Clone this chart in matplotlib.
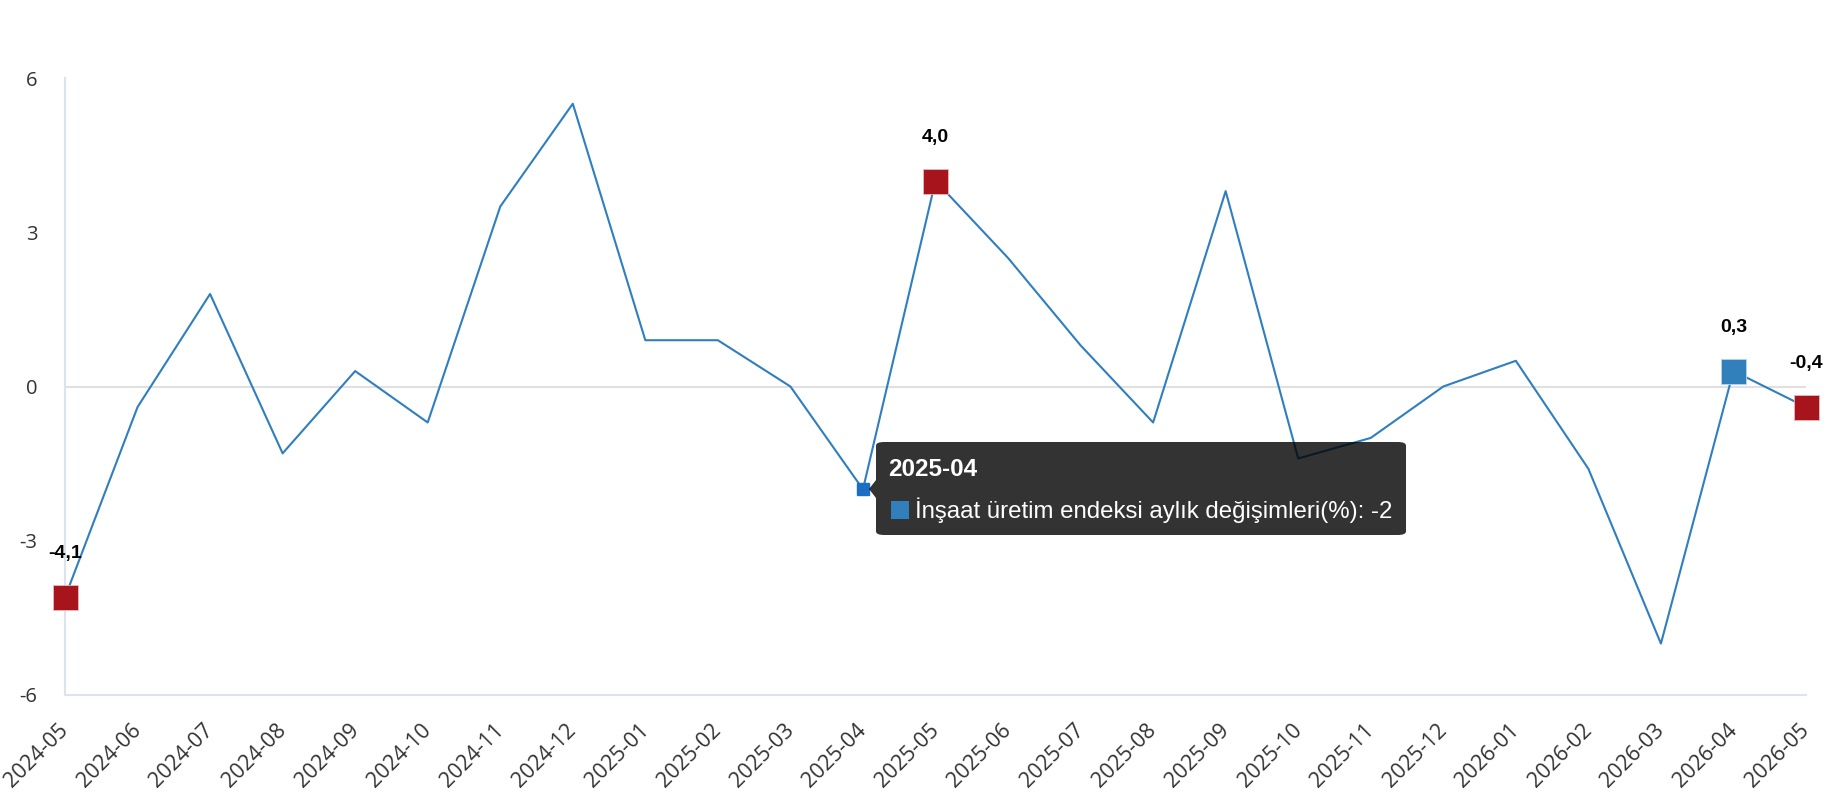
import matplotlib
matplotlib.use("Agg")
import matplotlib.pyplot as plt
from matplotlib.patches import FancyBboxPatch, Rectangle, Polygon
from matplotlib.transforms import ScaledTranslation

months = ['2024-05', '2024-06', '2024-07', '2024-08', '2024-09', '2024-10', '2024-11',
          '2024-12', '2025-01', '2025-02', '2025-03', '2025-04', '2025-05', '2025-06',
          '2025-07', '2025-08', '2025-09', '2025-10', '2025-11', '2025-12', '2026-01',
          '2026-02', '2026-03', '2026-04', '2026-05']
values = [-4.1, -0.4, 1.8, -1.3, 0.3, -0.7, 3.5, 5.5, 0.9, 0.9, 0.0, -2.0, 4.0, 2.5,
          0.8, -0.7, 3.8, -1.4, -1.0, 0.0, 0.5, -1.6, -5.0, 0.3, -0.4]

# highlighted points
red_idx = [0, 12, 24]
blue_idx = [23]
hover_idx = 11
yticks = [-6, -3, 0, 3, 6]

line_col = '#2f7ebf'
red = '#a8141c'
blue = '#317fbb'

plt.rcParams['font.family'] = ['Open Sans', 'DejaVu Sans']

W, H = 1830, 800
fig = plt.figure(figsize=(W / 100, H / 100), dpi=100)
ax = fig.add_axes([65 / W, 1 - 695 / H, (1806 - 65) / W, (695 - 78) / H])

x = list(range(len(months)))
ax.plot(x, values, color=line_col, lw=1.5, zorder=3)

for i in red_idx:
    ax.plot(x[i], values[i], 's', ms=18, color=red, mec='#e8b9bc', mew=0.6,
            zorder=4, clip_on=False)
for i in blue_idx:
    ax.plot(x[i], values[i], 's', ms=18, color=blue, mec='#b9d3ea', mew=0.6,
            zorder=4, clip_on=False)
for i in red_idx + blue_idx:
    ax.annotate(f'{values[i]:.1f}'.replace('.', ','), (x[i], values[i]),
                xytext=(0, 28), textcoords='offset points', ha='center', va='baseline',
                fontsize=14, fontweight='bold', family=['Liberation Sans'],
                annotation_clip=False)

ax.plot(x[hover_idx], values[hover_idx], 's', ms=8.5, color='#1a6fc4', zorder=5)

ax.set_xlim(0, len(months) - 1)
ax.set_ylim(-6, 6)
ax.set_yticks(yticks)
ax.set_yticklabels([str(t) for t in yticks])
ax.set_xticks(x)
ax.set_xticklabels(months, rotation=45, ha='right', rotation_mode='anchor')
ax.tick_params(axis='both', length=0, colors='#333333')
ax.tick_params(axis='y', pad=20, labelsize=14.5)
ax.tick_params(axis='x', pad=18, labelsize=15.5)
shift = ScaledTranslation(-5 / 72, 0, fig.dpi_scale_trans)
for lab in ax.get_xticklabels():
    lab.set_transform(lab.get_transform() + shift)

ax.axhline(0, color='#e0e0e0', lw=1.5, zorder=1)
for s in ['top', 'right']:
    ax.spines[s].set_visible(False)
for s in ['left', 'bottom']:
    ax.spines[s].set_color('#dde3ec')
    ax.spines[s].set_linewidth(1.5)

# tooltip (semi-transparent black, the line shows through darkened)
x0, x1, y0, y1 = 876, 1406, 442, 535
box = FancyBboxPatch((x0 / W, 1 - y1 / H), (x1 - x0) / W, (y1 - y0) / H,
                     boxstyle='round,pad=0,rounding_size=0.0045', transform=fig.transFigure,
                     facecolor='black', alpha=0.8, edgecolor='none', zorder=10)
fig.patches.append(box)
fig.patches.append(Polygon([(x0 / W, 1 - 480 / H), ((x0 - 7) / W, 1 - 489 / H),
                            (x0 / W, 1 - 498 / H)], closed=True,
                           transform=fig.transFigure, facecolor='black', alpha=0.8,
                           edgecolor='none', zorder=10))
fig.text(888 / W, 1 - 476 / H, months[hover_idx], color='white', fontsize=17.5,
         fontweight='bold', va='baseline', family=['Liberation Sans'], zorder=11)
fig.patches.append(Rectangle((891 / W, 1 - 519 / H), 18 / W, 18 / H,
                             transform=fig.transFigure, facecolor=blue,
                             edgecolor='none', zorder=11))
fig.text(915 / W, 1 - 518 / H,
         f'İnşaat üretim endeksi aylık değişimleri(%): {values[hover_idx]:g}',
         color='white', fontsize=17.3, va='baseline', family=['Liberation Sans'], zorder=11)

fig.savefig('out.png', dpi=100)
